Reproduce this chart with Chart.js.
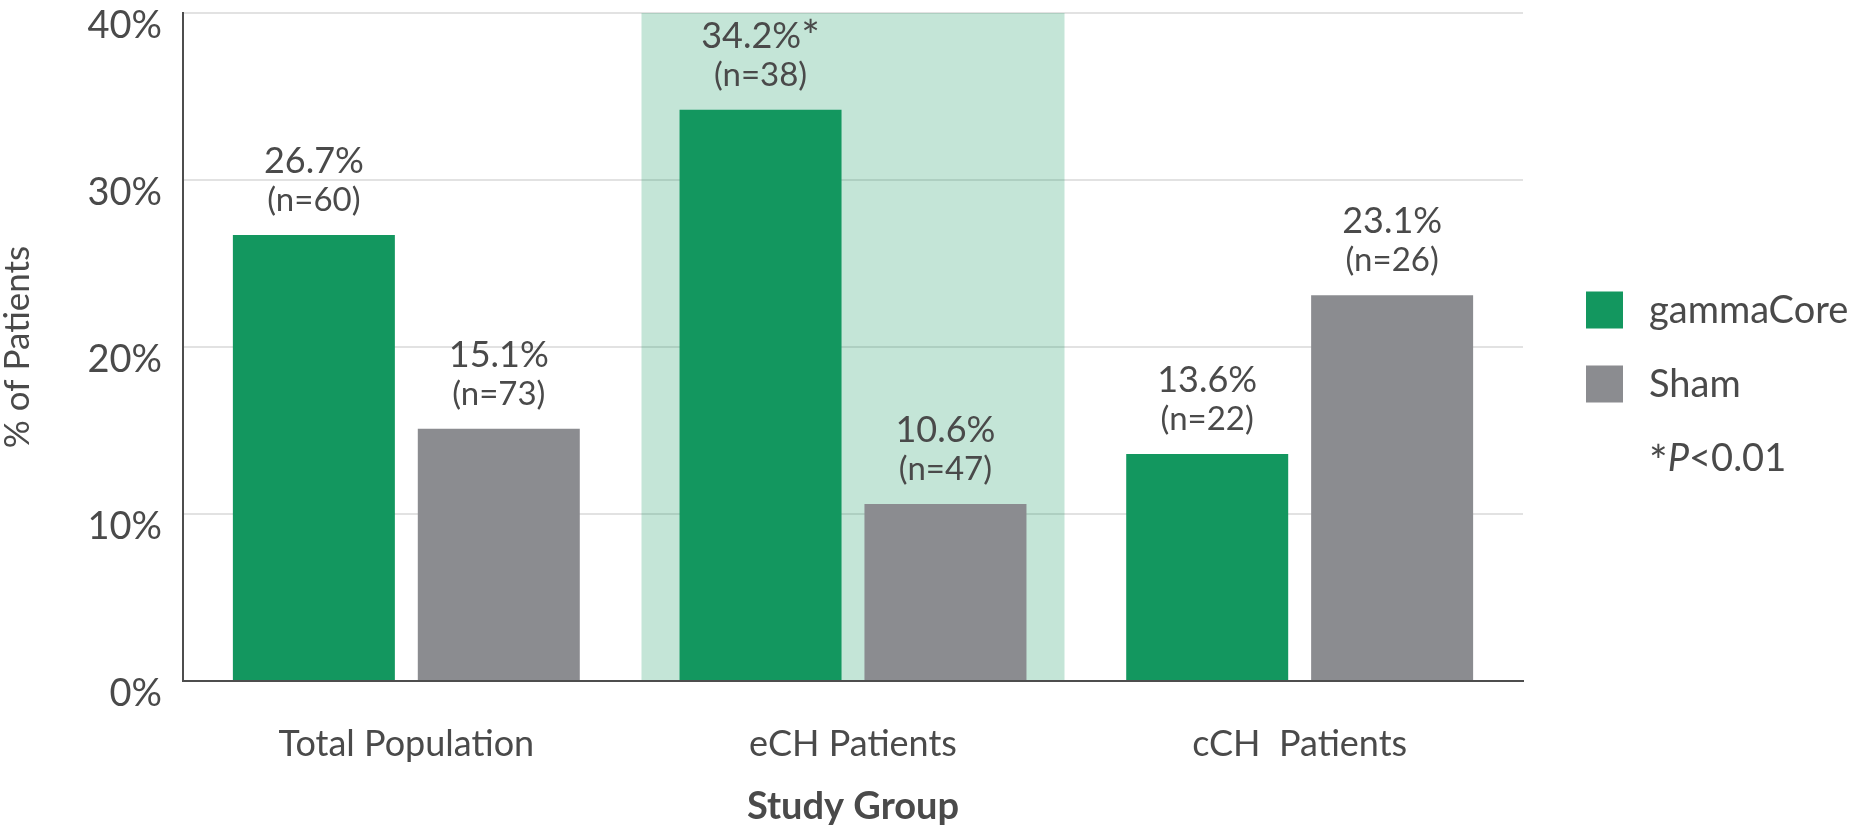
<!DOCTYPE html>
<html>
<head>
<meta charset="utf-8">
<script src="https://cdn.jsdelivr.net/npm/chart.js@4.4.1/dist/chart.umd.min.js"></script>
<style>
  html,body{margin:0;padding:0;background:#fff;}
  #wrap{width:1852px;height:828px;}
</style>
</head>
<body>
<div id="wrap"><canvas id="chart" width="1852" height="828"></canvas></div>
<script>
// data
const groups=['Total Population','eCH Patients','cCH  Patients'];
const gammaCore=[26.7,34.2,13.6];
const sham=[15.1,10.6,23.1];
const gammaN=[60,38,22];
const shamN=[73,47,26];
const gammaStar=[false,true,false];
const shamStar=[false,false,false];
const highlightIndex=1;
const yMax=40, yStep=10;

const GREEN='#13975f', GREY='#8b8c90', TEXT='#4a4a4a', FONT='Lato';

// light green band behind the eCH group
const bandPlugin={
  id:'band',
  beforeDatasetsDraw(chart){
    const {ctx,scales:{x,y}}=chart;
    const w=(x.getPixelForValue(1)-x.getPixelForValue(0))*0.947;
    const cx=x.getPixelForValue(highlightIndex);
    const top=y.getPixelForValue(yMax), bottom=y.getPixelForValue(0)-1;
    ctx.save();
    ctx.fillStyle='rgba(19,151,95,0.25)';
    ctx.fillRect(cx-w/2,top,w,bottom-top);
    ctx.restore();
  }
};

// value + n labels above bars
const labelPlugin={
  id:'barLabels',
  afterDatasetsDraw(chart){
    const {ctx}=chart;
    const ns=[gammaN,shamN], stars=[gammaStar,shamStar];
    ctx.save();
    ctx.fillStyle=TEXT; ctx.textBaseline='alphabetic';
    chart.data.datasets.forEach((ds,di)=>{
      chart.getDatasetMeta(di).data.forEach((bar,i)=>{
        const txt=ds.data[i].toFixed(1)+'%';
        ctx.font=`36px ${FONT}`;
        let w=ctx.measureText(txt).width, sw=0;
        if(stars[di][i]){ ctx.font=`44px ${FONT}`; sw=ctx.measureText('*').width; }
        const x0=bar.x-(w+sw)/2;
        ctx.textAlign='left';
        ctx.font=`36px ${FONT}`;
        ctx.fillText(txt,x0,bar.y-62);
        if(sw){ ctx.font=`44px ${FONT}`; ctx.fillText('*',x0+w,bar.y-58); }
        ctx.textAlign='center';
        ctx.font=`33px ${FONT}`;
        ctx.fillText('(n='+ns[di][i]+')',bar.x,bar.y-24);
      });
    });
    ctx.restore();
  }
};

// legend on the right with the P note
const legendPlugin={
  id:'sideLegend',
  afterDraw(chart){
    const {ctx,chartArea}=chart;
    const bx=chartArea.right+63, tx=chartArea.right+126, box=37;
    const rows=[310,384];
    ctx.save();
    ctx.textBaseline='middle'; ctx.textAlign='left'; ctx.fillStyle=TEXT;
    chart.data.datasets.forEach((ds,i)=>{
      ctx.fillStyle=ds.backgroundColor;
      ctx.fillRect(bx,rows[i]-box/2,box,box);
      ctx.fillStyle=TEXT;
      ctx.font=`38px ${FONT}`;
      ctx.fillText(ds.label,tx,rows[i]+1);
    });
    let x=tx, yy=459;
    ctx.font=`44px ${FONT}`;
    ctx.fillText('*',x,yy+4); x+=ctx.measureText('*').width;
    ctx.font=`italic 38px ${FONT}`;
    ctx.fillText('P',x,yy); x+=ctx.measureText('P').width;
    ctx.font=`38px ${FONT}`;
    ctx.fillText('<0.01',x,yy);
    ctx.restore();
  }
};

new Chart(document.getElementById('chart'),{
  type:'bar',
  data:{
    labels:groups,
    datasets:[
      {label:'gammaCore',data:gammaCore,backgroundColor:GREEN},
      {label:'Sham',data:sham,backgroundColor:GREY}
    ]
  },
  options:{
    responsive:false,
    animation:false,
    devicePixelRatio:1,
    categoryPercentage:0.828,
    barPercentage:0.876,
    layout:{padding:{top:13,right:329,bottom:0,left:0}},
    plugins:{legend:{display:false},tooltip:{enabled:false}},
    scales:{
      x:{
        grid:{display:false},
        border:{display:true,color:'#4d4d4d',width:2},
        ticks:{color:TEXT,font:{family:FONT,size:36,lineHeight:1},padding:37,maxRotation:0},
        title:{display:true,text:'Study Group',color:TEXT,font:{family:FONT,size:38,weight:'bold',lineHeight:1},padding:{top:0,bottom:2}},
        afterFit(s){s.height=147;s.paddingLeft=0;s.paddingRight=0;}
      },
      y:{
        min:0,max:yMax,
        grid:{color:'#e2e2e2',lineWidth:2,drawTicks:false},
        border:{display:true,color:'#4d4d4d',width:2},
        ticks:{stepSize:yStep,color:TEXT,font:{family:FONT,size:38,lineHeight:1},padding:21,labelOffset:13,callback:v=>v+'%'},
        title:{display:true,text:'% of Patients',color:TEXT,font:{family:FONT,size:35,lineHeight:1},padding:{top:0,bottom:0}},
        afterFit(s){s.width=183;s.paddingTop=0;s.paddingBottom=0;}
      }
    }
  },
  plugins:[bandPlugin,labelPlugin,legendPlugin]
});
</script>
</body>
</html>
